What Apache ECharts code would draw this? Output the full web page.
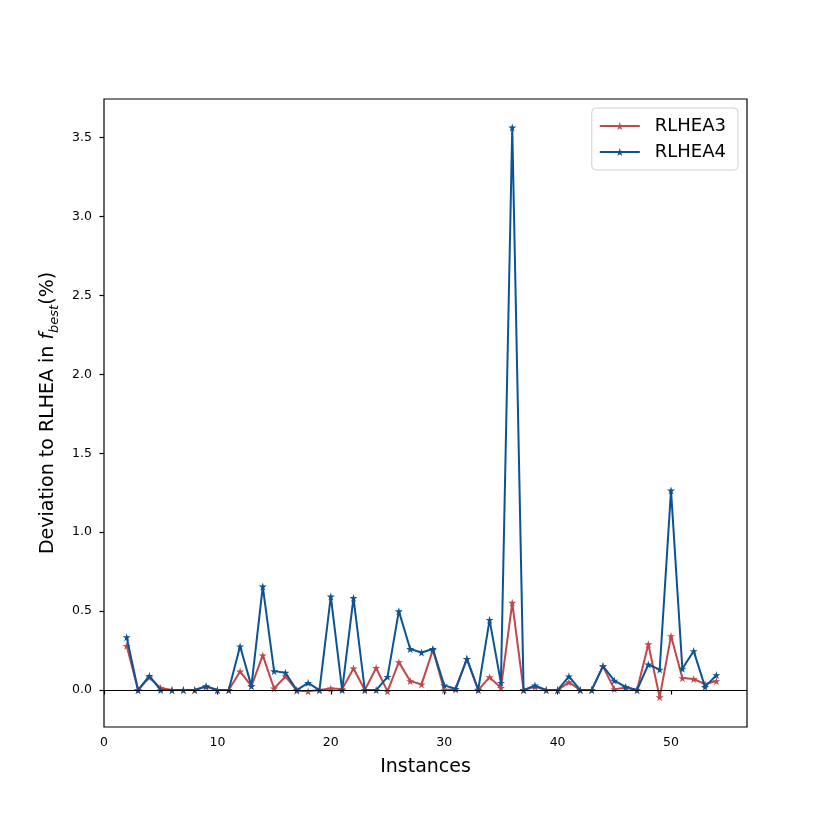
<!DOCTYPE html>
<html style="height: 100%">
<head>
	<meta charset="utf-8">
	<script src="https://cdn.jsdelivr.net/npm/echarts@6/dist/echarts.min.js"></script>
	<style>
		body { margin: 0; background: #fff; }
		#chart { width: 830px; height: 830px; }
	</style>
</head>
<body>
	<div id="chart"></div>
	<script>
		// instances 2..54
		var instances = [2, 3, 4, 5, 6, 7, 8, 9, 10, 11, 12, 13, 14, 15, 16, 17, 18, 19, 20, 21, 22, 23, 24, 25, 26, 27, 28,
			29, 30, 31, 32, 33, 34, 35, 36, 37, 38, 39, 40, 41, 42, 43, 44, 45, 46, 47, 48, 49, 50, 51, 52, 53, 54];
		var rlhea3 = [0.28, 0, 0.08, 0.013, 0, 0, 0, 0.02, 0, 0, 0.118, 0.025, 0.22, 0.01, 0.087, -0.004, -0.008,
			0, 0.01, 0.006, 0.137, 0, 0.14, -0.008, 0.177, 0.057, 0.036, 0.255, 0, 0.005, 0.198, 0, 0.082, 0.013,
			0.553, 0, 0.02, 0, 0, 0.05, 0, 0, 0.15, 0.006, 0.015, 0, 0.29, -0.045, 0.342, 0.076, 0.07, 0.038, 0.057];
		var rlhea4 = [0.335, 0, 0.09, 0, 0, 0, 0, 0.025, 0, 0, 0.277, 0.025, 0.656, 0.12, 0.11, 0, 0.046,
			0, 0.593, 0, 0.584, 0, 0, 0.084, 0.5, 0.26, 0.238, 0.26, 0.03, 0.008, 0.198, 0.002, 0.445, 0.046,
			3.565, 0, 0.03, 0, 0, 0.087, 0, 0, 0.152, 0.06, 0.02, 0, 0.162, 0.13, 1.265, 0.135, 0.247, 0.02, 0.095];
		var xTicks = [0, 10, 20, 30, 40, 50];
		var yTicks = [0, 0.5, 1, 1.5, 2, 2.5, 3, 3.5];

		var star = 'path://M50,0 L61,35 L98,35 L68,57 L79,91 L50,70 L21,91 L32,57 L2,35 L39,35 Z';

		function pairs(ys) {
			return instances.map(function(x, i) { return [x, ys[i]]; });
		}

		var myChart = echarts.init(document.getElementById('chart'));
		var font = 'DejaVu Sans';
		myChart.setOption({
			animation: false,
			textStyle: { fontFamily: font },
			grid: {
				left: 104, right: 83, top: 99, bottom: 103,
				show: true, borderColor: '#000', borderWidth: 1.2, backgroundColor: 'transparent'
			},
			legend: {
				orient: 'vertical',
				right: 92,
				top: 108,
				padding: [9, 12, 9, 7],
				itemGap: 8,
				itemWidth: 40,
				itemHeight: 10,
				borderColor: '#d0d0d0',
				borderWidth: 1,
				borderRadius: 4,
				backgroundColor: '#fff',
				textStyle: { fontSize: 18, color: '#000', fontFamily: font, padding: [0, 0, 0, 10] },
				data: ['RLHEA3', 'RLHEA4']
			},
			xAxis: {
				type: 'value',
				min: 0,
				max: 56.7,
				name: 'Instances',
				nameLocation: 'middle',
				nameGap: 31,
				nameTextStyle: { fontSize: 19, color: '#000' },
				axisLine: { show: false },
				splitLine: { show: false },
				axisTick: { show: true, length: 4.5, customValues: xTicks, lineStyle: { color: '#000', width: 1.2 } },
				axisLabel: { customValues: xTicks, fontSize: 12.5, color: '#000', margin: 9 }
			},
			yAxis: {
				type: 'value',
				min: -0.234,
				max: 3.745,
				name: '{n|Deviation to RLHEA in }{f|f}{s|best}{n|(%)}',
				nameLocation: 'middle',
				nameGap: 38,
				nameRotate: 90,
				nameTextStyle: {
					rich: {
						n: { fontSize: 19, color: '#000', fontFamily: font, lineHeight: 26, verticalAlign: 'middle' },
						f: { fontSize: 19, color: '#000', fontFamily: font, fontStyle: 'italic', lineHeight: 26, verticalAlign: 'middle' },
						s: { fontSize: 13, color: '#000', fontFamily: font, fontStyle: 'italic', lineHeight: 26, verticalAlign: 'bottom', padding: [9, 0, 0, 0] }
					}
				},
				axisLine: { show: false },
				splitLine: { show: false },
				axisTick: { show: true, length: 4.5, customValues: yTicks, lineStyle: { color: '#000', width: 1.2 } },
				axisLabel: {
					customValues: yTicks, fontSize: 12.5, color: '#000', margin: 12,
					formatter: function(v) { return v.toFixed(1); }
				}
			},
			series: [{
				name: 'RLHEA3',
				type: 'line',
				data: pairs(rlhea3),
				symbol: star,
				symbolSize: 8,
				color: '#c0474a',
				lineStyle: { width: 2 },
				z: 3,
				markLine: {
					silent: true,
					symbol: 'none',
					label: { show: false },
					lineStyle: { color: '#000', width: 1, type: 'solid' },
					data: [{ yAxis: 0 }]
				}
			}, {
				name: 'RLHEA4',
				type: 'line',
				data: pairs(rlhea4),
				symbol: star,
				symbolSize: 8,
				color: '#0b5394',
				lineStyle: { width: 2 },
				z: 4
			}]
		});
	</script>
</body>
</html>
